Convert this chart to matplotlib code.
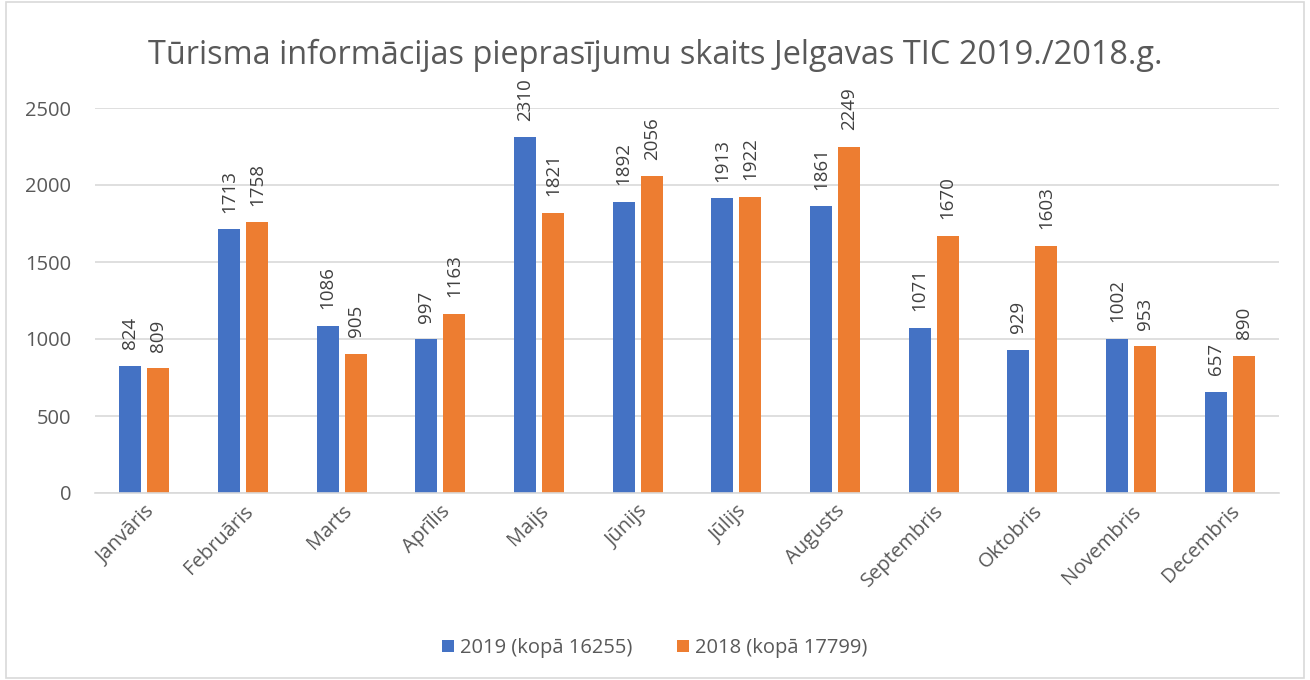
import matplotlib.pyplot as plt
import numpy as np
from matplotlib.patches import Rectangle

# Data
months = ["Janvāris", "Februāris", "Marts", "Aprīlis", "Maijs", "Jūnijs",
          "Jūlijs", "Augusts", "Septembris", "Oktobris", "Novembris", "Decembris"]
values_2019 = [824, 1713, 1086, 997, 2310, 1892, 1913, 1861, 1071, 929, 1002, 657]
values_2018 = [809, 1758, 905, 1163, 1821, 2056, 1922, 2249, 1670, 1603, 953, 890]
label_2019 = "2019 (kopā 16255)"
label_2018 = "2018 (kopā 17799)"
title = "Tūrisma informācijas pieprasījumu skaits Jelgavas TIC 2019./2018.g."

blue = "#4472C4"
orange = "#ED7D31"
text_col = "#595959"

plt.rcParams['font.family'] = ['Open Sans', 'DejaVu Sans']

fig = plt.figure(figsize=(13.1, 6.8), dpi=100)
ax = fig.add_axes([95 / 1310, 1 - 493 / 680, (1279 - 95) / 1310, (493 - 108) / 680])

x = np.arange(len(months))
w = 0.223
b1 = ax.bar(x - 0.142, values_2019, w, color=blue, label=label_2019)
b2 = ax.bar(x + 0.142, values_2018, w, color=orange, label=label_2018)

# value labels above every bar, rotated like in the original
for bars in (b1, b2):
    for r in bars:
        ax.annotate(str(int(r.get_height())), (r.get_x() + r.get_width() / 2, r.get_height()),
                    xytext=(0, 12), textcoords="offset points", rotation=90,
                    ha="center", va="bottom", fontsize=13.5, color="#404040")

ax.set_xlim(-0.5, len(months) - 0.5)
ax.set_ylim(0, 2500)
ax.set_yticks(range(0, 2501, 500))
ax.yaxis.grid(True, color="#D9D9D9", linewidth=1.2)
ax.set_axisbelow(True)
for s in ["top", "right", "left"]:
    ax.spines[s].set_visible(False)
ax.spines["bottom"].set_color("#D9D9D9")
ax.spines["bottom"].set_linewidth(1.2)
ax.tick_params(axis="both", length=0, colors=text_col, labelsize=14.5)
ax.tick_params(axis="y", pad=17)
ax.tick_params(axis="x", pad=6)
ax.set_xticks(x)
ax.set_xticklabels(months, rotation=45, ha="right", rotation_mode="anchor")

fig.text(0.5, 1 - 55 / 680, title, ha="center", va="center", fontsize=23.4, color=text_col)

fig.legend(loc="center", bbox_to_anchor=(0.5, 1 - 648 / 680), ncol=2, frameon=False,
           fontsize=14.5, labelcolor=text_col, handlelength=0.6, handleheight=0.6,
           handletextpad=0.3, columnspacing=2.2)

fig.patches.append(Rectangle((6 / 1310, 2 / 680), 1 - 12 / 1310, 1 - 4 / 680,
                             transform=fig.transFigure, fill=False,
                             edgecolor="#D9D9D9", linewidth=1.2))

fig.savefig("out.png", dpi=100)
